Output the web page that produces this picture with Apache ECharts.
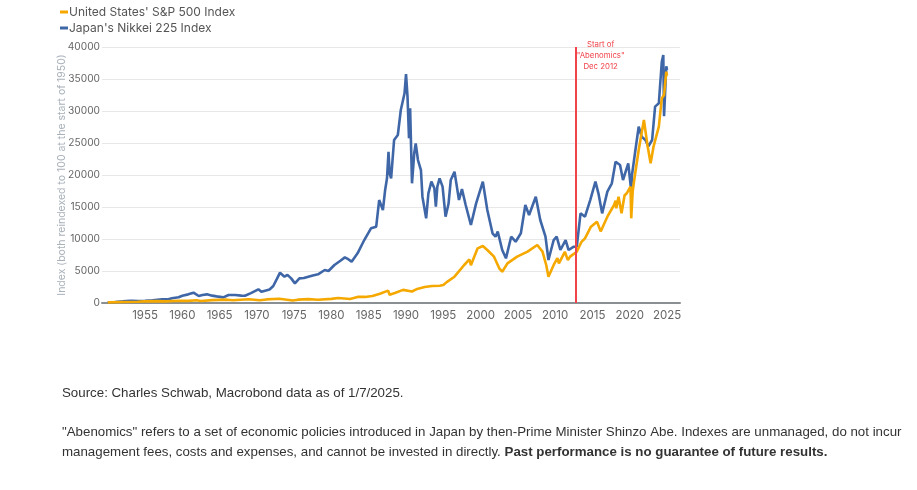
<!DOCTYPE html>
<html>
<head>
<meta charset="utf-8">
<script src="https://cdn.jsdelivr.net/npm/echarts@6/dist/echarts.min.js"></script>
<style>
html,body{margin:0;padding:0;background:#fff;}
#chart{width:917px;height:490px;}
</style>
</head>
<body>
<div id="chart"></div>
<script>
// ---- data ----
const nikkeiYears = [1950.0,1951.0,1952.0,1953.0,1953.3,1954.0,1955.0,1956.0,1957.3,1958.0,1958.6,1959.5,1960.0,1960.8,1961.5,1962.2,1962.7,1963.3,1964.0,1964.6,1965.5,1966.2,1967.1,1967.9,1968.4,1969.2,1970.2,1970.6,1971.1,1971.7,1972.2,1972.7,1973.1,1973.7,1974.1,1974.6,1975.1,1975.7,1976.3,1976.9,1977.5,1978.2,1979.1,1979.6,1980.4,1981.2,1981.8,1982.3,1982.7,1983.5,1984.4,1985.3,1986.0,1986.4,1986.9,1987.2,1987.45,1987.65,1987.8,1988.0,1988.4,1988.9,1989.3,1989.8,1990.0,1990.2,1990.4,1990.55,1990.8,1991.1,1991.3,1991.6,1992.0,1992.2,1992.7,1993.0,1993.4,1993.8,1994.0,1994.2,1994.5,1994.9,1995.3,1995.7,1996.0,1996.5,1997.1,1997.5,1998.0,1998.7,1999.4,2000.3,2000.9,2001.6,2002.0,2002.3,2002.9,2003.4,2004.1,2004.7,2005.4,2006.0,2006.5,2007.4,2008.0,2008.7,2009.1,2009.8,2010.2,2010.7,2011.4,2011.8,2012.5,2012.9,2013.4,2014.0,2014.7,2015.4,2015.8,2016.3,2017.0,2017.6,2018.1,2018.7,2019.1,2019.8,2020.2,2020.3,2020.7,2021.2,2021.6,2022.1,2022.5,2023.0,2023.4,2023.9,2024.3,2024.5,2024.6,2024.9,2025.0];
const nikkeiValues = [100,160,250,350,360,300,330,420,560,560,730,900,1140,1350,1610,1090,1250,1350,1150,1040,880,1250,1250,1150,1140,1550,2140,1750,1930,2100,2660,3800,4740,4110,4400,3850,3070,3850,3900,4110,4300,4480,5160,5000,5940,6600,7130,6800,6460,7760,9840,11670,11930,16090,14530,17660,19500,23640,20260,19480,25470,26250,30160,32760,35780,32240,25730,30420,18700,23390,24950,22340,20780,16610,13230,17140,18960,17920,15050,18180,19480,18180,13480,15500,19220,20520,16090,17800,15310,12190,15570,18960,14530,10890,10360,11150,8280,6980,10360,9580,10890,15310,13750,16610,12970,10360,6720,9840,10360,8280,9840,8280,8800,8800,14010,13480,16090,18960,17140,14010,17400,18700,22080,21560,19220,21830,17500,20000,23390,27560,26000,25470,24480,25470,30680,31200,37700,38750,29170,36980,36400];

const spYears = [1950.0,1952.0,1954.0,1955.0,1956.5,1957.8,1959.5,1960.8,1961.9,1962.5,1964.0,1966.0,1966.8,1968.9,1970.4,1971.3,1973.0,1974.8,1975.5,1976.9,1978.2,1980.0,1980.9,1982.5,1983.5,1984.5,1985.5,1986.5,1987.6,1987.8,1988.5,1989.6,1990.8,1991.5,1992.5,1993.5,1994.5,1995.0,1995.5,1996.5,1997.8,1998.5,1998.7,1999.6,2000.3,2000.9,2001.8,2002.5,2002.9,2003.6,2004.9,2006.3,2007.6,2008.3,2008.8,2009.1,2009.8,2010.3,2010.5,2010.7,2011.3,2011.7,2012.0,2012.9,2013.5,2014.0,2014.8,2015.6,2016.1,2016.3,2017.0,2017.9,2018.1,2018.2,2018.5,2018.9,2019.3,2019.6,2020.1,2020.2,2020.4,2020.6,2021.2,2021.9,2022.4,2022.8,2023.2,2023.9,2024.3,2024.6,2024.9,2025.0];
const spValues = [100,150,200,260,300,250,340,330,420,310,450,520,440,590,420,560,660,380,520,600,510,640,780,620,950,950,1100,1450,1930,1300,1550,2050,1800,2200,2500,2650,2700,2800,3300,4110,5940,6800,5900,8540,8900,8280,7240,5420,4890,6200,7240,8020,9060,8020,5940,4110,5940,7000,6200,6460,8000,6700,7240,8020,9500,10100,11930,12710,11200,11670,13480,15310,16000,14800,16610,14010,16800,17140,18180,13230,17500,19220,23910,28600,24480,21830,24480,27560,32000,32500,36140,35500];

const xTickYears = [1955,1960,1965,1970,1975,1980,1985,1990,1995,2000,2005,2010,2015,2020,2025];
const abenomicsYear = 2012.7;
const seriesNames = ["United States' S&P 500 Index", "Japan's Nikkei 225 Index"];

const toPairs = (xs, ys) => xs.map((x, i) => [x, ys[i]]);

const chart = echarts.init(document.getElementById('chart'), null, {renderer: 'canvas'});
const FONT = 'Inter, "Noto Sans", sans-serif';
const FOOT = '"Liberation Sans", Arial, sans-serif';

chart.setOption({
  animation: false,
  backgroundColor: '#ffffff',
  textStyle: {fontFamily: FONT},
  legend: {
    orient: 'vertical',
    left: 60, top: 6, padding: 0,
    icon: 'rect', itemWidth: 8, itemHeight: 3, itemGap: 4,
    textStyle: {fontSize: 12, color: '#555', fontFamily: FONT, padding: [0,0,0,-4]},
    data: seriesNames
  },
  grid: {left: 102, right: 237, top: 47, bottom: 187, containLabel: false},
  xAxis: {
    type: 'value', min: 1949.23, max: 2026.74,
    axisLine: {show: true, lineStyle: {color: '#8a8f94', width: 2}},
    axisTick: {show: false},
    splitLine: {show: false},
    axisLabel: {customValues: xTickYears, fontSize: 11.5, color: '#666', margin: 7, fontFamily: FONT,
      formatter: v => String(v)}
  },
  yAxis: {
    type: 'value', min: 0, max: 40000, interval: 5000,
    name: 'Index (both reindexed to 100 at the start of 1950)',
    nameLocation: 'middle', nameGap: 35, nameRotate: 90, nameMoveOverlap: false,
    nameTextStyle: {fontSize: 10.5, color: '#a9b1b9', fontFamily: FONT},
    axisLine: {show: false},
    axisTick: {show: false},
    axisLabel: {fontSize: 10.2, color: '#666', margin: 2, fontFamily: FONT, formatter: v => String(v)},
    splitLine: {lineStyle: {color: '#e8e8e8', width: 1}}
  },
  series: [
    {
      name: seriesNames[1], type: 'line', showSymbol: false, symbol: 'none',
      data: toPairs(nikkeiYears, nikkeiValues),
      lineStyle: {color: '#3f67a7', width: 2.6}, itemStyle: {color: '#3f67a7'},
      z: 2,
      markPoint: {
        silent: true, symbol: 'circle', symbolSize: 1,
        itemStyle: {color: 'rgba(0,0,0,0)'},
        label: {
          show: true, position: 'inside',
          formatter: 'Start of\n"Abenomics"\nDec 2012',
          color: '#f0434a', fontSize: 7.8, lineHeight: 11, align: 'center',
          fontFamily: FONT
        },
        data: [{coord: [abenomicsYear + 3.4, 38700]}]
      }
    },
    {
      name: seriesNames[0], type: 'line', showSymbol: false, symbol: 'none',
      data: toPairs(spYears, spValues),
      lineStyle: {color: '#f5a900', width: 2.6}, itemStyle: {color: '#f5a900'},
      z: 3,
      markLine: {
        silent: true, symbol: ['none', 'none'],
        lineStyle: {color: '#f0434a', width: 2, type: 'solid'},
        label: {show: false},
        data: [{xAxis: abenomicsYear}]
      }
    }
  ],
  graphic: [
    {type: 'text', left: 62, top: 387, style: {text: 'Source: Charles Schwab, Macrobond data as of 1/7/2025.', fontSize: 13.3, fill: '#333', fontFamily: FOOT}},
    {type: 'text', left: 62, top: 426, style: {text: '"Abenomics" refers to a set of economic policies introduced in Japan by then-Prime Minister Shinzo Abe. Indexes are unmanaged, do not incur', fontSize: 13.3, fill: '#333', fontFamily: FOOT}},
    {type: 'text', left: 62, top: 446, style: {
      text: '{n|management fees, costs and expenses, and cannot be invested in directly. }{b|Past performance is no guarantee of future results.}',
      fontFamily: FOOT,
      rich: {
        n: {fontSize: 13.3, fill: '#333', color: '#333', fontFamily: FOOT},
        b: {fontSize: 13.3, fontWeight: 'bold', fill: '#333', color: '#333', fontFamily: FOOT}
      }
    }}
  ]
});
</script>
</body>
</html>
